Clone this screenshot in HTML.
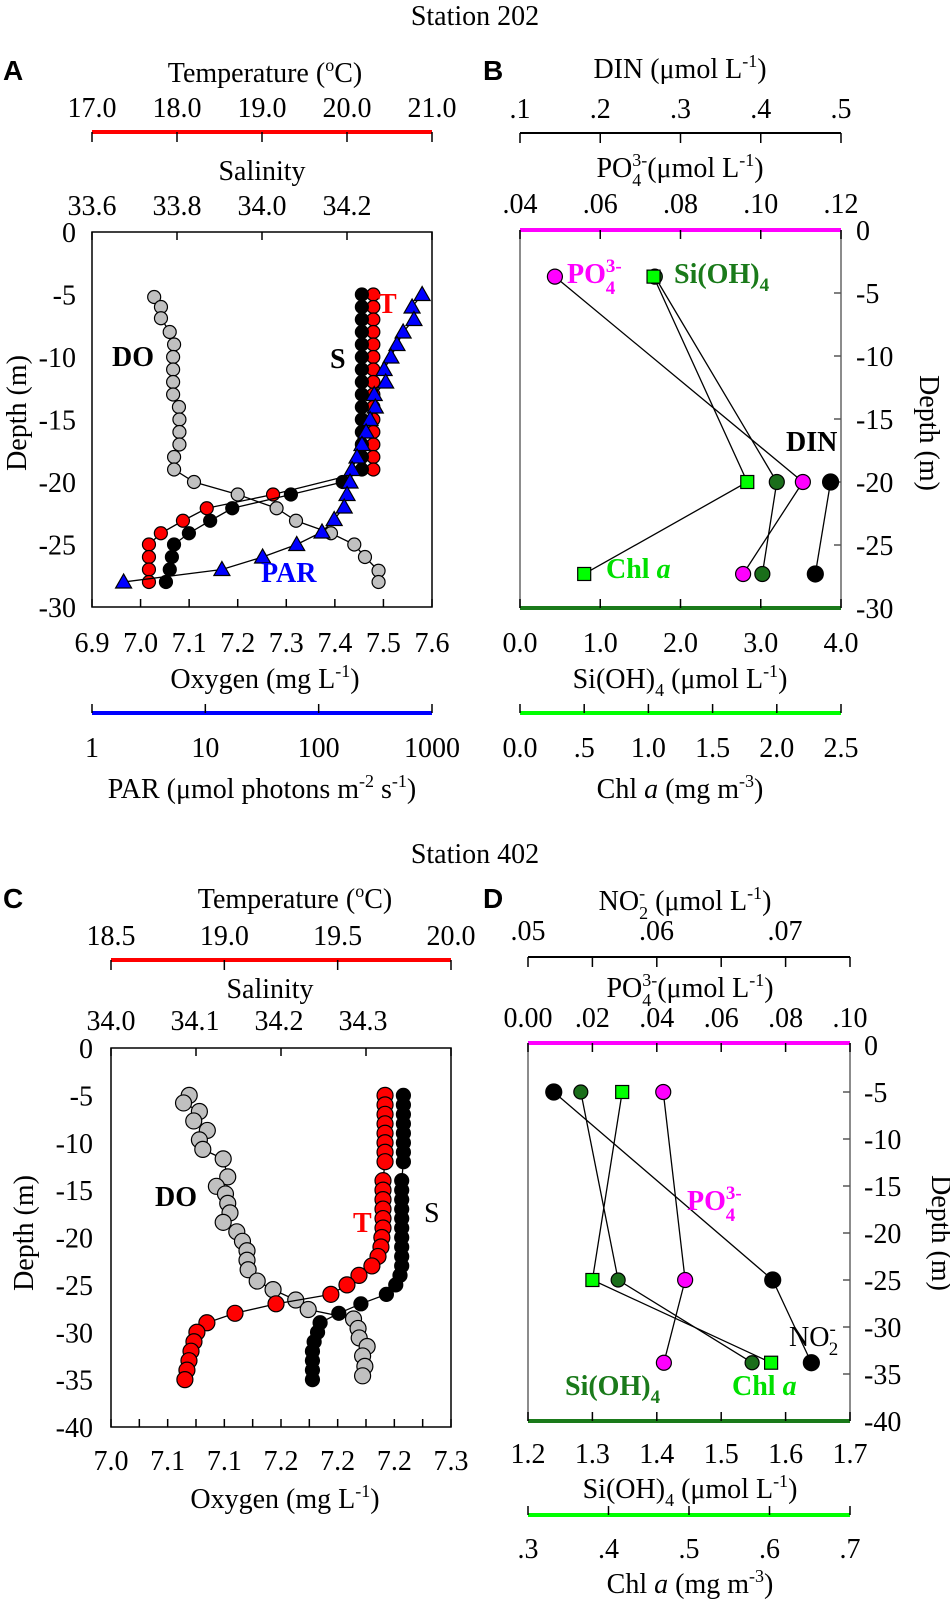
<!DOCTYPE html>
<html><head><meta charset="utf-8"><style>
html,body{margin:0;padding:0;background:#fff;}
svg{display:block;font-family:"Liberation Serif",serif;}
.t{font-size:28px;fill:#000;}
.lab{font-family:"Liberation Sans",sans-serif;font-weight:bold;font-size:28px;}
.b{font-weight:bold;font-size:28px;}
</style></head><body>
<svg id="fig" width="950" height="1604" viewBox="0 0 950 1604" xmlns="http://www.w3.org/2000/svg">
<text class="t" x="475" y="25" text-anchor="middle">Station 202</text>
<text class="t" x="475" y="863" text-anchor="middle">Station 402</text>
<text class="lab" x="3" y="80">A</text>
<text class="lab" x="483" y="80">B</text>
<text class="lab" x="3" y="908">C</text>
<text class="lab" x="483" y="908">D</text>

<text class="t" x="265" y="82" text-anchor="middle">Temperature (<tspan font-size="18" dy="-11">o</tspan><tspan dy="11">C)</tspan></text>
<text class="t" x="262" y="180" text-anchor="middle">Salinity</text>
<text class="t" x="265" y="688" text-anchor="middle">Oxygen (mg L<tspan font-size="18" dy="-11">-1</tspan><tspan dy="11">)</tspan></text>
<text class="t" x="262" y="798" text-anchor="middle">PAR (μmol photons m<tspan font-size="18" dy="-11">-2</tspan><tspan dy="11"> s</tspan><tspan font-size="18" dy="-11">-1</tspan><tspan dy="11">)</tspan></text>
<text class="t" transform="translate(26,413) rotate(-90)" text-anchor="middle">Depth (m)</text>

<text class="t" x="680" y="78" text-anchor="middle">DIN (μmol L<tspan font-size="18" dy="-11">-1</tspan><tspan dy="11">)</tspan></text>
<text class="t" x="680" y="177" text-anchor="middle">PO<tspan font-size="18" dy="-11">3-</tspan><tspan font-size="18" dx="-15" dy="20">4</tspan><tspan dx="6" dy="-9">(μmol L</tspan><tspan font-size="18" dy="-11">-1</tspan><tspan dy="11">)</tspan></text>
<text class="t" x="680" y="688" text-anchor="middle">Si(OH)<tspan font-size="18" dy="8">4</tspan><tspan dy="-8"> (μmol L</tspan><tspan font-size="18" dy="-11">-1</tspan><tspan dy="11">)</tspan></text>
<text class="t" x="680" y="798" text-anchor="middle">Chl <tspan font-style="italic">a</tspan> (mg m<tspan font-size="18" dy="-11">-3</tspan><tspan dy="11">)</tspan></text>
<text class="t" transform="translate(920,433) rotate(90)" text-anchor="middle">Depth (m)</text>

<text class="t" x="295" y="908" text-anchor="middle">Temperature (<tspan font-size="18" dy="-11">o</tspan><tspan dy="11">C)</tspan></text>
<text class="t" x="270" y="998" text-anchor="middle">Salinity</text>
<text class="t" x="285" y="1508" text-anchor="middle">Oxygen (mg L<tspan font-size="18" dy="-11">-1</tspan><tspan dy="11">)</tspan></text>
<text class="t" transform="translate(33,1233) rotate(-90)" text-anchor="middle">Depth (m)</text>

<text class="t" x="685" y="910" text-anchor="middle">NO<tspan font-size="18" dy="-11">-</tspan><tspan font-size="18" dx="-6" dy="20">2</tspan><tspan dy="-9"> (μmol L</tspan><tspan font-size="18" dy="-11">-1</tspan><tspan dy="11">)</tspan></text>
<text class="t" x="690" y="997" text-anchor="middle">PO<tspan font-size="18" dy="-11">3-</tspan><tspan font-size="18" dx="-15" dy="20">4</tspan><tspan dx="6" dy="-9">(μmol L</tspan><tspan font-size="18" dy="-11">-1</tspan><tspan dy="11">)</tspan></text>
<text class="t" x="690" y="1498" text-anchor="middle">Si(OH)<tspan font-size="18" dy="8">4</tspan><tspan dy="-8"> (μmol L</tspan><tspan font-size="18" dy="-11">-1</tspan><tspan dy="11">)</tspan></text>
<text class="t" x="690" y="1593" text-anchor="middle">Chl <tspan font-style="italic">a</tspan> (mg m<tspan font-size="18" dy="-11">-3</tspan><tspan dy="11">)</tspan></text>
<text class="t" transform="translate(932,1233) rotate(90)" text-anchor="middle">Depth (m)</text>

<rect x="92" y="232" width="340" height="375" fill="none" stroke="#000" stroke-width="1.5"/>
<line x1="92" y1="132" x2="432" y2="132" stroke="#f00" stroke-width="4"/>
<line x1="92" y1="713" x2="432" y2="713" stroke="#00f" stroke-width="4"/>
<line x1="520" y1="230" x2="520" y2="608" stroke="#666" stroke-width="1.5"/>
<line x1="841" y1="230" x2="841" y2="608" stroke="#666" stroke-width="1.5"/>
<line x1="520" y1="230" x2="841" y2="230" stroke="#f0f" stroke-width="4"/>
<line x1="520" y1="608" x2="841" y2="608" stroke="#1a7a1a" stroke-width="4"/>
<line x1="520" y1="133" x2="841" y2="133" stroke="#000" stroke-width="2"/>
<line x1="520" y1="713" x2="841" y2="713" stroke="#0f0" stroke-width="4"/>
<rect x="111" y="1048" width="340" height="379" fill="none" stroke="#000" stroke-width="1.5"/>
<line x1="111" y1="960" x2="451" y2="960" stroke="#f00" stroke-width="4"/>
<line x1="528" y1="1043" x2="528" y2="1421" stroke="#666" stroke-width="1.5"/>
<line x1="850" y1="1043" x2="850" y2="1421" stroke="#666" stroke-width="1.5"/>
<line x1="528" y1="1043" x2="850" y2="1043" stroke="#f0f" stroke-width="4"/>
<line x1="528" y1="1421" x2="850" y2="1421" stroke="#1a7a1a" stroke-width="4"/>
<line x1="528" y1="957" x2="850" y2="957" stroke="#000" stroke-width="2"/>
<line x1="528" y1="1515" x2="850" y2="1515" stroke="#0f0" stroke-width="4"/>

<g id="ticks"></g>
<g id="marks"></g>

<text class="b" x="112" y="366">DO</text>
<text class="b" x="330" y="368">S</text>
<text class="b" x="378" y="313" fill="#f00">T</text>
<text class="b" x="261" y="582" fill="#00f">PAR</text>
<text class="b" x="567" y="283" fill="#f0f">PO<tspan font-size="19" dy="-11">3-</tspan><tspan font-size="19" dx="-16" dy="22">4</tspan></text>
<text class="b" x="674" y="283" fill="#1a7a1a">Si(OH)<tspan font-size="19" dy="8">4</tspan></text>
<text class="b" x="786" y="451">DIN</text>
<text class="b" x="606" y="578" fill="#00e000">Chl <tspan font-style="italic">a</tspan></text>
<text class="b" x="155" y="1206">DO</text>
<text class="t" x="424" y="1222">S</text>
<text class="b" x="353" y="1232" fill="#f00">T</text>
<text class="b" x="687" y="1210" fill="#f0f">PO<tspan font-size="19" dy="-11">3-</tspan><tspan font-size="19" dx="-16" dy="22">4</tspan></text>
<text class="t" x="789" y="1346">NO<tspan font-size="19" dy="-11">-</tspan><tspan font-size="19" dx="-7" dy="20">2</tspan></text>
<text class="b" x="565" y="1395" fill="#1a7a1a">Si(OH)<tspan font-size="19" dy="8">4</tspan></text>
<text class="b" x="732" y="1395" fill="#00e000">Chl <tspan font-style="italic">a</tspan></text>
</svg>
<script>
const depthA_DO = [-5.2,-6,-6.9,-8,-9,-10,-11,-12,-13,-14,-15,-16,-17,-18,-19,-20,-21,-22.1,-23.1,-24.1,-25,-26,-27.1,-28];
const oxyA = [7.028,7.042,7.042,7.06,7.069,7.067,7.067,7.067,7.067,7.079,7.08,7.08,7.08,7.069,7.069,7.11,7.2,7.28,7.32,7.392,7.44,7.462,7.49,7.49];
const depthA_T = [-5,-6,-7,-8,-9,-10,-11,-12,-13,-14,-15,-16,-17,-18,-19,-21,-22.1,-23.1,-24.1,-25,-26,-27,-28];
const tempA = [20.31,20.31,20.31,20.31,20.31,20.31,20.31,20.31,20.31,20.31,20.31,20.31,20.31,20.31,20.31,19.13,18.35,18.07,17.81,17.67,17.67,17.67,17.67];
const depthA_S = [-5,-6,-7,-8,-9,-10,-11,-12,-13,-14,-15,-16,-17,-18,-19,-20,-21,-22.1,-23.1,-24.1,-25,-26,-27,-28];
const salA = [34.235,34.235,34.235,34.235,34.235,34.235,34.235,34.235,34.235,34.235,34.235,34.235,34.235,34.235,34.235,34.19,34.068,33.93,33.878,33.828,33.793,33.788,33.783,33.774];
const depthA_PAR = [-5,-6,-7,-8,-9,-10,-11,-12,-13,-14,-15,-16,-17,-18,-19,-20,-21,-22,-23,-24,-25,-26,-27,-28];
const parA = [818,667,693,556,491,434,378,390,309,316,284,262,241,218,197,189,178,168,137,107,64,32,14,1.9];
const tempTicksA = ["17.0","18.0","19.0","20.0","21.0"];
const salTicksA = ["33.6","33.8","34.0","34.2"];
const oxyTicksA = ["6.9","7.0","7.1","7.2","7.3","7.4","7.5","7.6"];
const parTicksA = ["1","10","100","1000"];
const depthTicksA = ["0","-5","-10","-15","-20","-25","-30"];
const depthB = [-3.7,-20,-27.3];
const dinB = [null,0.487,0.468];
const po4B = [0.0487,0.1105,0.0956];
const siB = [1.68,3.2,3.02];
const chlB = [1.04,1.77,0.5];
const dinTicksB = [".1",".2",".3",".4",".5"];
const po4TicksB = [".04",".06",".08",".10",".12"];
const siTicksB = ["0.0","1.0","2.0","3.0","4.0"];
const chlTicksB = ["0.0",".5","1.0","1.5","2.0","2.5"];
const depthC_DO = [-5,-5.8,-6.7,-7.7,-8.7,-9.7,-10.7,-11.7,-13.6,-14.6,-15.4,-16.4,-17.4,-18.4,-19.4,-20.4,-21.4,-22.4,-23.4,-24.6,-25.5,-26.6,-27.6,-28.6,-29.6,-30.6,-31.5,-32.5,-33.6,-34.6];
const oxyC = [7.069,7.064,7.078,7.073,7.085,7.078,7.081,7.099,7.103,7.093,7.101,7.103,7.105,7.099,7.111,7.116,7.12,7.12,7.121,7.129,7.143,7.163,7.174,7.214,7.218,7.219,7.226,7.222,7.224,7.222];
const depthC_T = [-5,-6,-7,-8,-9,-10,-11,-12,-14,-15,-16,-17,-18,-19,-20,-21,-22,-23,-24,-25,-26,-27,-28,-29,-30,-31,-32,-33,-34,-35];
const tempC = [19.709,19.709,19.709,19.709,19.709,19.709,19.709,19.709,19.7,19.7,19.7,19.7,19.7,19.7,19.695,19.691,19.678,19.651,19.594,19.541,19.47,19.228,19.047,18.923,18.879,18.866,18.853,18.844,18.835,18.826];
const depthC_S = [-5,-6,-7,-8,-9,-10,-11,-12,-14,-15,-16,-17,-18,-19,-20,-21,-22,-23,-24,-25,-26,-27,-28,-29,-30,-31,-32,-33,-34,-35];
const salC = [34.344,34.344,34.344,34.344,34.344,34.344,34.344,34.344,34.342,34.342,34.342,34.342,34.342,34.342,34.342,34.342,34.342,34.342,34.34,34.335,34.324,34.294,34.268,34.246,34.243,34.239,34.237,34.237,34.237,34.237];
const tempTicksC = ["18.5","19.0","19.5","20.0"];
const salTicksC = ["34.0","34.1","34.2","34.3"];
const oxyTicksC = ["7.0","7.1","7.1","7.2","7.2","7.2","7.3"];
const depthTicksC = ["0","-5","-10","-15","-20","-25","-30","-35","-40"];
const depthD = [-5,-25,-33.8];
const no2D = [0.052,0.069,0.072];
const po4D = [0.042,0.0488,0.0422];
const siD = [1.282,1.34,1.548];
const chlD = [0.417,0.38,0.602];
const no2TicksD = [".05",".06",".07"];
const po4TicksD = ["0.00",".02",".04",".06",".08",".10"];
const siTicksD = ["1.2","1.3","1.4","1.5","1.6","1.7"];
const chlTicksD = [".3",".4",".5",".6",".7"];
const depthTicksD = ["0","-5","-10","-15","-20","-25","-30","-35","-40"];

const NS = "http://www.w3.org/2000/svg";
const ticksG = document.getElementById('ticks');
const marksG = document.getElementById('marks');
function mk(tag, parent){ const e=document.createElementNS(NS,tag); parent.appendChild(e); return e; }
function lin(lo,hi,p0,p1){ return v => p0 + (v-lo)/(hi-lo)*(p1-p0); }

const A = {t:lin(17,21,92,432), s:lin(33.6,34.4,92,432), o:lin(6.9,7.6,92,432), p:v=>92+Math.log10(v)/3*340, y:lin(0,-30,232,607)};
const B = {din:lin(0.1,0.5,520,841), po4:lin(0.04,0.12,520,841), si:lin(0,4,520,841), chl:lin(0,2.5,520,841), y:lin(0,-30,230,608)};
const C = {t:lin(18.5,20,111,451), s:lin(34,34.4,111,451), o:lin(7,7.3,111,451), y:lin(0,-40,1048,1427)};
const D = {no2:lin(0.05,0.075,528,850), po4:lin(0,0.1,528,850), si:lin(1.2,1.7,528,850), chl:lin(0.3,0.7,528,850), y:lin(0,-40,1045,1421)};

function tickLabels(labels, x0, x1, y, anchor, name){
  const n = labels.length;
  labels.forEach((l,i)=>{
    const t = mk('text', ticksG);
    
    
    t.setAttribute('class','t');
    t.setAttribute('x', x0 + (x1-x0)*i/(n-1));
    t.setAttribute('y', y);
    t.setAttribute('text-anchor', anchor||'middle');
    t.textContent = l;
  });
}
function vLabels(labels, x, y0, y1, anchor, name){
  const n = labels.length;
  labels.forEach((l,i)=>{
    const t = mk('text', ticksG);
    
    
    t.setAttribute('class','t');
    t.setAttribute('x', x);
    t.setAttribute('y', y0 + (y1-y0)*i/(n-1) + 10);
    t.setAttribute('text-anchor', anchor);
    t.textContent = l;
  });
}
function tickMarks(x0,x1,n,y,len,color,name){
  for(let i=0;i<=n;i++){
    const x = x0+(x1-x0)*i/n;
    const l = mk('line', ticksG);
    
    
    l.setAttribute('x1',x); l.setAttribute('x2',x);
    l.setAttribute('y1',y); l.setAttribute('y2',y+len);
    l.setAttribute('stroke',color||'#000'); l.setAttribute('stroke-width','1.5');
  }
}
function hTickMarks(x,y0,y1,n,len,name){
  for(let i=1;i<n;i++){
    const y = y0+(y1-y0)*i/n;
    const l = mk('line', ticksG);
    
    
    l.setAttribute('x1',x); l.setAttribute('x2',x+len);
    l.setAttribute('y1',y); l.setAttribute('y2',y);
    l.setAttribute('stroke','#555'); l.setAttribute('stroke-width','1.5');
  }
}

tickLabels(tempTicksA,92,432,117,'middle','a-temperature-tick-label');
tickMarks(92,432,4,132,10,'#000','a-temperature-tick');
tickLabels(salTicksA,92,347,215,'middle','a-salinity-tick-label');
tickMarks(92,432,4,232,8,'#000','a-salinity-tick');
tickLabels(oxyTicksA,92,432,652,'middle','a-oxygen-tick-label');
tickMarks(92,432,7,607,-8,'#000','a-oxygen-tick');
tickLabels(parTicksA,92,432,757,'middle','a-par-tick-label');
tickMarks(92,432,3,713,-9,'#000','a-par-tick');
vLabels(depthTicksA,76,232,607,'end','a-depth-tick-label');
tickLabels(dinTicksB,520,841,118,'middle','b-din-tick-label');
tickMarks(520,841,4,133,10,'#000','b-din-tick');
tickLabels(po4TicksB,520,841,213,'middle','b-po4-tick-label');
tickMarks(520,841,4,230,9,'#000','b-po4-tick');
tickLabels(siTicksB,520,841,652,'middle','b-sioh4-tick-label');
tickMarks(520,841,4,608,-9,'#000','b-sioh4-tick');
tickLabels(chlTicksB,520,841,757,'middle','b-chla-tick-label');
tickMarks(520,841,5,713,-9,'#000','b-chla-tick');
vLabels(depthTicksA,856,230,608,'start','b-depth-tick-label');
hTickMarks(841,230,608,6,-7,'b-depth-tick');
tickLabels(tempTicksC,111,451,945,'middle','c-temperature-tick-label');
tickMarks(111,451,3,960,10,'#000','c-temperature-tick');
tickLabels(salTicksC,111,363,1030,'middle','c-salinity-tick-label');
tickMarks(111,451,4,1048,8,'#000','c-salinity-tick');
tickLabels(oxyTicksC,111,451,1470,'middle','c-oxygen-tick-label');
tickMarks(111,451,12,1427,-8,'#000','c-oxygen-tick');
vLabels(depthTicksC,93,1048,1427,'end','c-depth-tick-label');
tickLabels(no2TicksD,528,785,940,'middle','d-no2-tick-label');
tickMarks(528,850,5,957,10,'#000','d-no2-tick');
tickLabels(po4TicksD,528,850,1027,'middle','d-po4-tick-label');
tickMarks(528,850,5,1043,9,'#000','d-po4-tick');
tickLabels(siTicksD,528,850,1463,'middle','d-sioh4-tick-label');
tickMarks(528,850,5,1421,-9,'#000','d-sioh4-tick');
tickLabels(chlTicksD,528,850,1558,'middle','d-chla-tick-label');
tickMarks(528,850,4,1515,-9,'#000','d-chla-tick');
vLabels(depthTicksD,864,1045,1421,'start','d-depth-tick-label');
hTickMarks(850,1045,1421,8,-7,'d-depth-tick');

function series(xs, ds, xf, yf, shape, fill, r, name){
  const pts = [];
  xs.forEach((v,i)=>{ if(v!==null) pts.push([xf(v), yf(ds[i])]); });
  const pl = mk('polyline', marksG);
  
  
  pl.setAttribute('points', pts.map(p=>p.join(',')).join(' '));
  pl.setAttribute('fill','none'); pl.setAttribute('stroke','#000'); pl.setAttribute('stroke-width','1.3');
  pts.forEach(p=>{
    let m;
    if(shape==='c'){ m = mk('circle', marksG); m.setAttribute('cx',p[0]); m.setAttribute('cy',p[1]); m.setAttribute('r',r); }
    else if(shape==='s'){ m = mk('rect', marksG); m.setAttribute('x',p[0]-r); m.setAttribute('y',p[1]-r); m.setAttribute('width',2*r); m.setAttribute('height',2*r); }
    else { m = mk('polygon', marksG); m.setAttribute('points', `${p[0]},${p[1]-r} ${p[0]-r},${p[1]+r*0.75} ${p[0]+r},${p[1]+r*0.75}`); }
    
    
    m.setAttribute('fill', fill); m.setAttribute('stroke','#000'); m.setAttribute('stroke-width','1.2');
  });
}
series(oxyA, depthA_DO, A.o, A.y, 'c', '#c0c0c0', 6.5, 'a-do');
series(tempA, depthA_T, A.t, A.y, 'c', '#ff0000', 6.5, 'a-temperature');
series(salA, depthA_S, A.s, A.y, 'c', '#000000', 6.5, 'a-salinity');
series(parA, depthA_PAR, A.p, A.y, 't', '#0000ff', 8, 'a-par');
series(dinB, depthB, B.din, B.y, 'c', '#000000', 8, 'b-din');
series(siB, depthB, B.si, B.y, 'c', '#1a6e1a', 7.5, 'b-sioh4');
series(po4B, depthB, B.po4, B.y, 'c', '#ff00ff', 7.5, 'b-po4');
series(chlB, depthB, B.chl, B.y, 's', '#00ff00', 6.5, 'b-chla');
series(oxyC, depthC_DO, C.o, C.y, 'c', '#c0c0c0', 8, 'c-do');
series(salC, depthC_S, C.s, C.y, 'c', '#000000', 7, 'c-salinity');
series(tempC, depthC_T, C.t, C.y, 'c', '#ff0000', 8, 'c-temperature');
series(no2D, depthD, D.no2, D.y, 'c', '#000000', 8, 'd-no2');
series(siD, depthD, D.si, D.y, 'c', '#1a6e1a', 7, 'd-sioh4');
series(po4D, depthD, D.po4, D.y, 'c', '#ff00ff', 7.5, 'd-po4');
series(chlD, depthD, D.chl, D.y, 's', '#00ff00', 6.5, 'd-chla');
</script>
</body></html>
